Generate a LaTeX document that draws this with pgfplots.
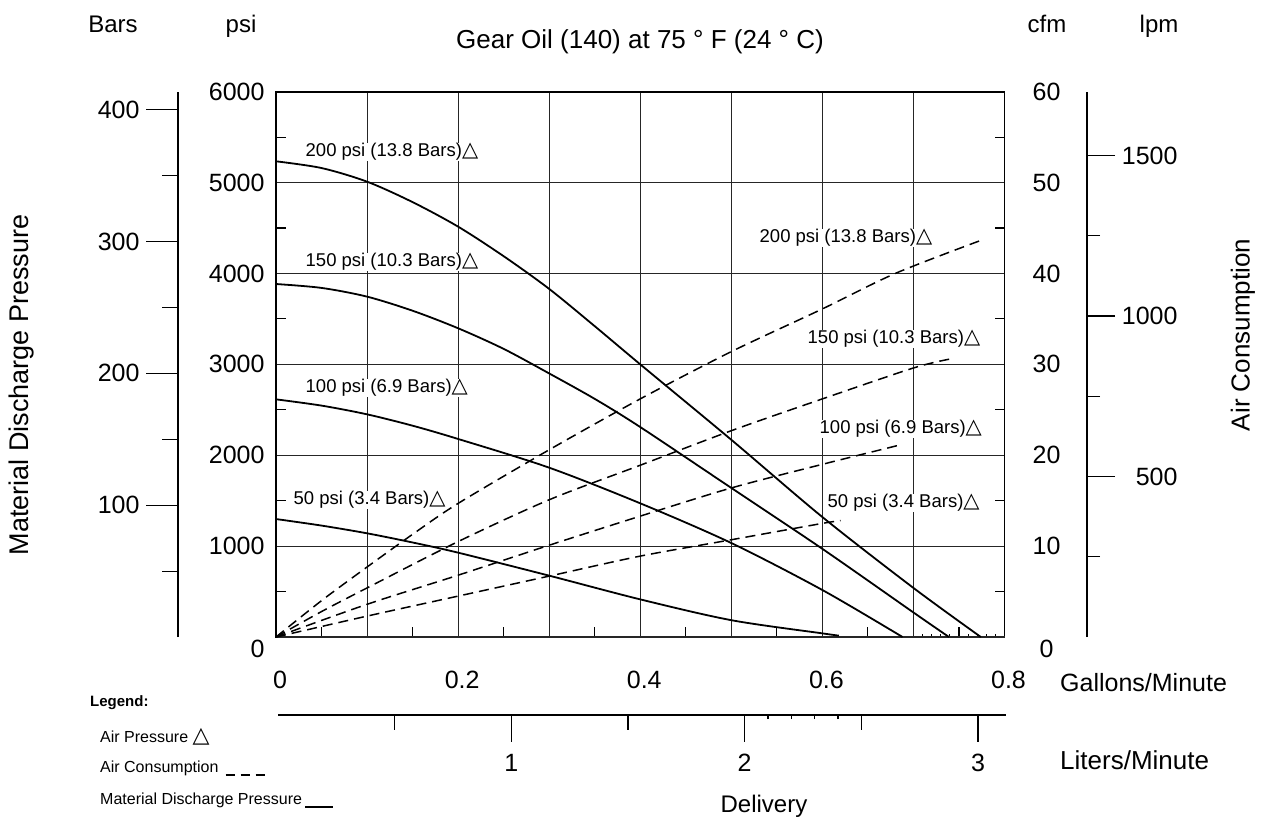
\documentclass[border=0pt]{standalone}
\usepackage{pgfplots}
\pgfplotsset{compat=1.18}
\usepackage{fontspec}
\setmainfont{Liberation Sans}
\newfontfamily\dejavu{DejaVu Sans}
\newcommand{\fs}[1]{\fontsize{#1}{#1}\selectfont}
\newcommand{\tri}[1][21]{{\dejavu\fontsize{#1}{#1}\selectfont △}}
\pgfplotsset{
  /pgf/number format/assume math mode=true,
  /pgf/number format/1000 sep={},
  every axis/.append style={
    scale only axis,
    tick label style={font=\fs{25}},
    every tick/.style={black, line width=1.1pt},
  },
}
\begin{document}
\begin{tikzpicture}[x=1pt,y=1pt]
\path[use as bounding box] (0,0) rectangle (1265,820);

% ---------- Bars axis (left) ----------
\begin{axis}[at={(178pt,183pt)}, anchor=south west, width=1pt, height=545.3pt,
  xmin=0, xmax=1, ymin=0, ymax=413.685,
  hide x axis, axis y line*=left,
  y axis line style={line width=1.8pt},
  ytick={100,200,300,400}, minor ytick={50,150,250,350},
  tick align=outside, major tick length=32pt, minor tick length=16pt,
  yticklabel style={xshift=-3pt}]
\addplot[draw=none] coordinates {(0,0)};
\end{axis}

% ---------- main axis (psi / gallons per minute) ----------
\begin{axis}[at={(276pt,183pt)}, anchor=south west, width=728.5pt, height=545.3pt,
  xmin=0, xmax=0.8, ymin=0, ymax=6000,
  axis line style={line width=1.8pt},
  xtick={0,0.1,0.2,0.3,0.4,0.5,0.6,0.7,0.8},
  xticklabels={0,,0.2,,0.4,,0.6,,0.8},
  minor xtick={0.05,0.15,0.25,0.35,0.45,0.55,0.65,0.75},
  extra x ticks={0.71,0.72,0.73,0.74,0.76,0.77,0.78,0.79},
  extra x tick labels={},
  extra x tick style={major tick length=3pt, grid=none},
  ytick={1000,2000,3000,4000,5000,6000},
  minor ytick={500,1500,2500,3500,4500,5500},
  extra y ticks={0}, extra y tick style={yticklabel style={yshift=-12pt}},
  xmajorgrids, ymajorgrids,
  major grid style={black!85, line width=1.1pt},
  tick align=inside, major tick length=0pt, minor tick length=10pt,
  xtick pos=bottom, ytick pos=both, yticklabel pos=left,
  xticklabel style={yshift=-31pt, xshift=4pt},
  yticklabel style={xshift=-8pt},
  clip=false]
% 200 psi air
\addplot[black, line width=1.8pt, smooth] coordinates {
 (0,5234) (0.05,5160) (0.1,5010) (0.15,4785) (0.2,4515) (0.25,4190) (0.3,3830)
 (0.35,3420) (0.4,3000) (0.5,2170) (0.6,1320) (0.7,540) (0.774,0)};
% 150 psi air
\addplot[black, line width=1.8pt, smooth] coordinates {
 (0,3884) (0.05,3841) (0.1,3745) (0.15,3590) (0.2,3397) (0.25,3170) (0.3,2900)
 (0.35,2620) (0.4,2310) (0.5,1640) (0.6,970) (0.7,270) (0.739,0)};
% 100 psi air
\addplot[black, line width=1.8pt, smooth] coordinates {
 (0,2615) (0.05,2546) (0.1,2450) (0.15,2325) (0.2,2179) (0.3,1863) (0.4,1471)
 (0.5,1034) (0.6,517) (0.688,0)};
% 50 psi air
\addplot[black, line width=1.8pt, smooth] coordinates {
 (0,1298) (0.05,1226) (0.1,1141) (0.15,1040) (0.2,928) (0.3,675) (0.4,414)
 (0.5,185) (0.6,40) (0.618,15)};
\end{axis}

% ---------- cfm axis (right of plot, overlay) ----------
\begin{axis}[at={(276pt,183pt)}, anchor=south west, width=728.5pt, height=545.3pt,
  xmin=0, xmax=0.8, ymin=0, ymax=60,
  hide x axis, axis y line*=right, y axis line style={draw=none},
  ytick={10,20,30,40,50,60},
  extra y ticks={0}, extra y tick style={yticklabel style={yshift=-12pt}},
  major tick length=0pt,
  yticklabel style={anchor=center, xshift=42pt},
  clip=false]
\addplot[black, line width=1.5pt, dash pattern=on 10pt off 6pt, smooth] coordinates {
 (0,0) (0.05,4.0) (0.1,7.7) (0.15,11.3) (0.2,14.7) (0.3,20.6) (0.4,26.2)
 (0.5,31.4) (0.6,36.1) (0.68,40) (0.773,43.6)};
\addplot[black, line width=1.5pt, dash pattern=on 10pt off 6pt, smooth] coordinates {
 (0,0) (0.05,2.8) (0.1,5.4) (0.2,10.5) (0.3,15.1) (0.4,18.9) (0.5,22.7)
 (0.6,26.2) (0.7,29.6) (0.741,30.6)};
\addplot[black, line width=1.5pt, dash pattern=on 10pt off 6pt, smooth] coordinates {
 (0,0) (0.1,3.6) (0.2,6.8) (0.3,10.1) (0.4,13.3) (0.5,16.4) (0.6,19.0) (0.688,21.2)};
\addplot[black, line width=1.5pt, dash pattern=on 10pt off 6pt, smooth] coordinates {
 (0,0) (0.1,2.3) (0.2,4.5) (0.3,6.7) (0.4,8.9) (0.5,10.7) (0.6,12.5) (0.62,12.8)};
\end{axis}

% ---------- lpm axis (far right) ----------
\begin{axis}[at={(1087pt,183pt)}, anchor=south east, width=1pt, height=545.3pt,
  xmin=0, xmax=1, ymin=0, ymax=1699.0,
  hide x axis, axis y line*=right, y axis line style={line width=1.8pt},
  ytick={500,1000,1500}, minor ytick={250,750,1250},
  tick align=outside, major tick length=28pt, minor tick length=13pt,
  yticklabel style={anchor=east, xshift=66pt}]
\addplot[draw=none] coordinates {(0,0)};
\end{axis}

% ---------- Liters/Minute axis (bottom) ----------
\begin{axis}[at={(278pt,105pt)}, anchor=south west, width=728pt, height=1pt,
  xmin=0, xmax=3.12, ymin=0, ymax=1,
  hide y axis, axis x line*=bottom, x axis line style={line width=1.8pt},
  xtick={1,2,3}, minor xtick={0.5,1.5,2.5},
  extra x ticks={2.1,2.2,2.3,2.4}, extra x tick labels={},
  extra x tick style={major tick length=4pt},
  tick align=outside, major tick length=27pt, minor tick length=15pt,
  xticklabel style={yshift=-9pt}]
\addplot[draw=none] coordinates {(0,0)};
\end{axis}

% ---------- texts ----------
\node[font=\fs{24}, anchor=base] at (113,787) {Bars};
\node[font=\fs{24}, anchor=base] at (241,787) {psi};
\node[font=\fs{26}, anchor=base] at (640,771) {Gear Oil (140) at 75 ° F (24 ° C)};
\node[font=\fs{24}, anchor=base] at (1047,787) {cfm};
\node[font=\fs{24}, anchor=base] at (1159,787) {lpm};
\node[font=\fs{27}, rotate=90] at (22,435) {Material Discharge Pressure};
\node[font=\fs{26}, rotate=90] at (1243,485) {Air Consumption};
\node[font=\fs{25}, anchor=west, inner sep=0pt] at (1060,137) {Gallons/Minute};
\node[font=\fs{26}, anchor=west, inner sep=0pt] at (1060,60) {Liters/Minute};
\node[font=\fs{24}] at (764,14) {Delivery};

% legend
\node[font=\bfseries\fs{15}, anchor=west, inner sep=0pt] at (90,117) {Legend:};
\node[font=\fs{16}, anchor=west, inner sep=0pt] at (100,83) {Air Pressure \tri[22]};
\node[font=\fs{16}, anchor=west, inner sep=0pt] (ac) at (100,52) {Air Consumption};
\draw[line width=2.2pt, dash pattern=on 9pt off 6pt] ([xshift=7pt,yshift=1pt]ac.south east) -- ++(42pt,0);
\node[font=\fs{16}, anchor=west, inner sep=0pt] (md) at (100,20) {Material Discharge Pressure};
\draw[line width=2.2pt] ([xshift=3pt,yshift=1pt]md.south east) -- ++(28pt,0);

% curve labels
\tikzset{lbl/.style={font=\fs{18.5}, fill=white, inner sep=0.5pt, anchor=west}}
\node[lbl] at (305,668) {200 psi (13.8 Bars)\tri};
\node[lbl] at (305,558) {150 psi (10.3 Bars)\tri};
\node[lbl] at (305,432) {100 psi (6.9 Bars)\tri};
\node[lbl] at (293,320) {50 psi (3.4 Bars)\tri};
\node[lbl] at (759,582) {200 psi (13.8 Bars)\tri};
\node[lbl] at (807,481) {150 psi (10.3 Bars)\tri};
\node[lbl] at (819,391) {100 psi (6.9 Bars)\tri};
\node[lbl] at (827,317) {50 psi (3.4 Bars)\tri};
\end{tikzpicture}
\end{document}
